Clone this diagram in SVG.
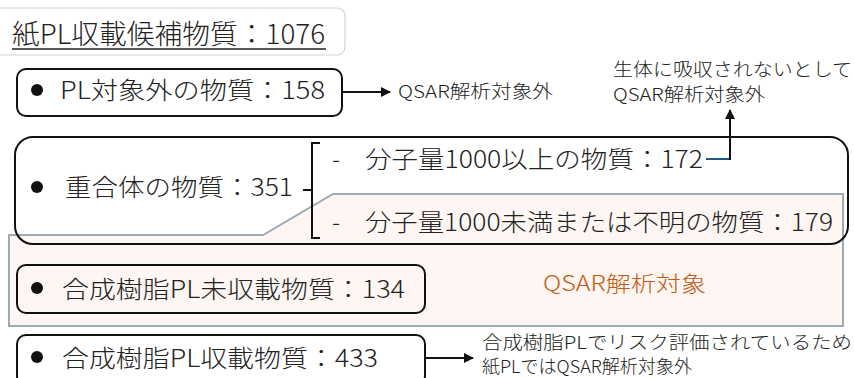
<svg xmlns="http://www.w3.org/2000/svg" width="854" height="378" viewBox="0 0 854 378">
<defs>
<style>
text{font-family:"Noto Sans CJK JP","Noto Sans",sans-serif;fill:#222;font-weight:300;}
.box{fill:none;stroke:#111;stroke-width:2;}
.big{font-size:24px;}
.note{font-size:18px;}
.ln{stroke:#111;stroke-width:2;fill:none;}
</style>
<marker id="ah" viewBox="0 0 10 10" refX="9" refY="5" markerWidth="5" markerHeight="5" orient="auto"><path d="M0,0 L10,5 L0,10 Z" fill="#111"/></marker>
</defs>
<rect width="854" height="378" fill="#fff"/>
<g id="title">
<rect x="-6" y="8" width="351" height="47" rx="8" fill="#fff" stroke="#d4d4d4" stroke-width="1.2"/>
<text x="12" y="44" font-size="27" textLength="313" lengthAdjust="spacingAndGlyphs">紙PL収載候補物質：1076</text>
<line x1="12" y1="49" x2="326" y2="49" stroke="#222" stroke-width="1.6"/>
</g>
<g id="target-area">
<path d="M9,235 L263,235 L333,194 L843,194 L843,326 L9,326 Z" fill="#fdf6f2" stroke="#9daab2" stroke-width="2"/>
<text x="543" y="291" font-size="21" style="fill:#c55a11" textLength="163" lengthAdjust="spacingAndGlyphs">QSAR解析対象</text>
</g>
<g id="node-pl-out">
<rect class="box" x="17" y="69" width="325" height="47" rx="9"/>
<circle cx="37" cy="90" r="6" fill="#111"/>
<text class="big" x="60" y="99" textLength="265" lengthAdjust="spacingAndGlyphs">PL対象外の物質：158</text>
</g>
<g id="note-pl-out">
<text class="note" x="398" y="98" textLength="155" lengthAdjust="spacingAndGlyphs">QSAR解析対象外</text>
</g>
<g id="node-polymer">
<rect class="box" x="15" y="137" width="833" height="107" rx="18"/>
<circle cx="37" cy="187" r="6" fill="#111"/>
<text class="big" x="65" y="196" textLength="228" lengthAdjust="spacingAndGlyphs">重合体の物質：351</text>
</g>
<g id="node-mw-high">
<text class="big" x="332" y="168">-</text>
<text class="big" x="365" y="168" textLength="338" lengthAdjust="spacingAndGlyphs">分子量1000以上の物質：172</text>
</g>
<g id="node-mw-low">
<text class="big" x="332" y="231">-</text>
<text class="big" x="365" y="231" textLength="468" lengthAdjust="spacingAndGlyphs">分子量1000未満または不明の物質：179</text>
</g>
<g id="note-absorb">
<text class="note" x="613" y="76" textLength="239" lengthAdjust="spacingAndGlyphs">生体に吸収されないとして</text>
<text class="note" x="613" y="101" textLength="152" lengthAdjust="spacingAndGlyphs">QSAR解析対象外</text>
</g>
<g id="node-resin-unlisted">
<rect class="box" x="17" y="265" width="408" height="48" rx="9"/>
<circle cx="37" cy="288" r="6" fill="#111"/>
<text class="big" x="62" y="298" textLength="343" lengthAdjust="spacingAndGlyphs">合成樹脂PL未収載物質：134</text>
</g>
<g id="node-resin-listed">
<rect class="box" x="17" y="335" width="408" height="50" rx="9"/>
<circle cx="37" cy="357" r="6" fill="#111"/>
<text class="big" x="62" y="367" textLength="316" lengthAdjust="spacingAndGlyphs">合成樹脂PL収載物質：433</text>
</g>
<g id="note-resin">
<text class="note" x="482" y="349" textLength="370" lengthAdjust="spacingAndGlyphs">合成樹脂PLでリスク評価されているため</text>
<text class="note" x="482" y="373" textLength="210" lengthAdjust="spacingAndGlyphs">紙PLではQSAR解析対象外</text>
</g>
<g id="connectors">
<line class="ln" x1="342" y1="92" x2="390" y2="92" marker-end="url(#ah)"/>
<path class="ln" d="M320,143 L312,143 L312,238 L320,238 M303,190 L312,190"/>
<line x1="706" y1="159" x2="730" y2="159" stroke="#1f5a80" stroke-width="2"/>
<line class="ln" x1="730" y1="160" x2="730" y2="110" marker-end="url(#ah)"/>
<line class="ln" x1="425" y1="358" x2="473" y2="358" marker-end="url(#ah)"/>
</g>
</svg>
